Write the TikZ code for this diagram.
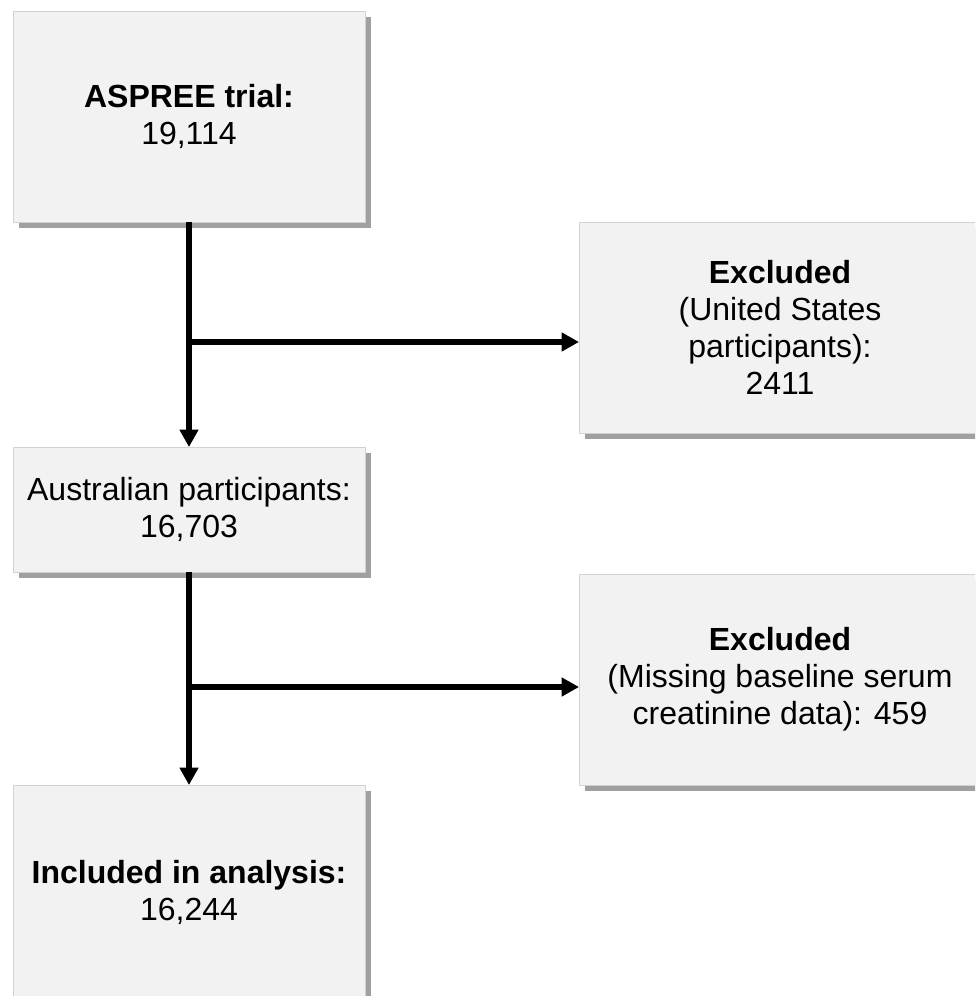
\documentclass[tikz,border=0pt]{standalone}
\usepackage{fontspec}
\setmainfont{Liberation Sans}
\usetikzlibrary{arrows.meta,shadows}
\definecolor{boxfill}{RGB}{242,242,242}
\definecolor{boxline}{RGB}{210,210,210}
\definecolor{boxshadow}{RGB}{160,160,160}
\tikzset{
  flowbox/.style={draw=boxline, line width=0.75, fill=boxfill, anchor=north west,
    inner sep=0pt, outer sep=0pt, align=center, font=\fontsize{24}{27.6}\selectfont,
    drop shadow={shadow xshift=4.2pt, shadow yshift=-4.2pt, fill=boxshadow, opacity=1}},
  flowarrow/.style={line width=4.2, -{Triangle[length=13pt,width=13.5pt]}}
}
\begin{document}
\begin{tikzpicture}[x=0.75pt,y=0.75pt,yscale=-1,xscale=1]
    \useasboundingbox (0,0) rectangle (975,996);
    \clip (0,0) rectangle (975,996);
    % boxes
    \node [flowbox, minimum width=264pt, minimum height=158.25pt] (trial) at (13,11) {\textbf{ASPREE trial:}\\19,114};
    \node [flowbox, minimum width=301.5pt, minimum height=158.25pt] (usexcl) at (579,222) {\textbf{Excluded}\\(United States\\participants):\\2411};
    \node [flowbox, minimum width=264pt, minimum height=93.75pt] (austr) at (13,447) {Australian participants:\\16,703};
    \node [flowbox, minimum width=301.5pt, minimum height=158.25pt] (crexcl) at (579,574) {\textbf{Excluded}\\(Missing baseline serum\\creatinine data): 459};
    \node [flowbox, minimum width=264pt, minimum height=161.25pt] (incl) at (13,785) {\textbf{Included in analysis:}\\16,244};
    % arrows
    \coordinate (split1) at (189,342);
    \coordinate (split2) at (189,687);
    \draw [flowarrow] (trial.south) -- (austr.north);
    \draw [flowarrow] (split1) -- (split1 -| usexcl.west);
    \draw [flowarrow] (austr.south) -- (incl.north);
    \draw [flowarrow] (split2) -- (split2 -| crexcl.west);
\end{tikzpicture}
\end{document}
